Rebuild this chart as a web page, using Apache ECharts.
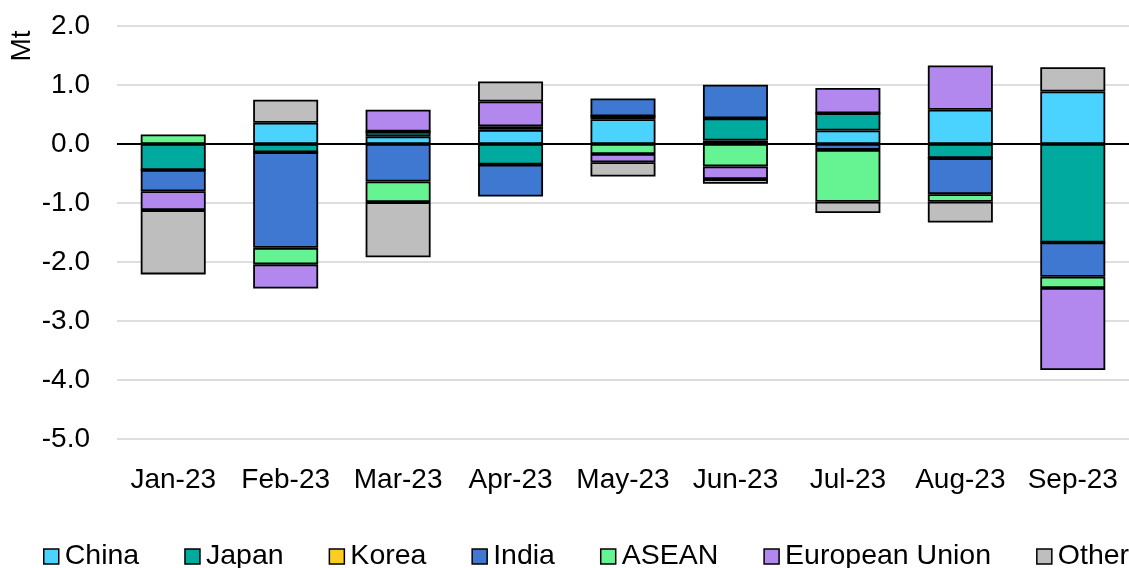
<!DOCTYPE html>
<html>
<head>
<meta charset="utf-8">
<style>
  html, body { margin: 0; padding: 0; background: #fff; }
  #chart { width: 1129px; height: 568px; }
</style>
<script src="https://cdn.jsdelivr.net/npm/echarts@6/dist/echarts.min.js"></script>
</head>
<body>
<div id="chart"></div>
<script>
// Monthly change by destination, Mt
const months = ['Jan-23', 'Feb-23', 'Mar-23', 'Apr-23', 'May-23', 'Jun-23', 'Jul-23', 'Aug-23', 'Sep-23'];
const china  = [0, 0.36, 0.13, 0.24, 0.42, 0.06, 0.23, 0.58, 0.89];
const japan  = [-0.44, -0.14, 0.08, -0.35, 0.05, 0.375, 0.29, -0.24, -1.67];
const korea  = [0, 0, 0, 0, 0, 0, 0, 0, 0];
const india  = [-0.36, -1.62, -0.635, -0.54, 0.30, 0.57, -0.10, -0.61, -0.58];
const asean  = [0.16, -0.28, -0.35, 0.06, -0.17, -0.38, -0.88, -0.13, -0.19];
const eu     = [-0.32, -0.41, 0.37, 0.42, -0.14, -0.215, 0.43, 0.75, -1.39];
const other  = [-1.09, 0.39, -0.935, 0.34, -0.24, -0.08, -0.19, -0.35, 0.41];

const seriesDefs = [
  { name: 'China', data: china, color: '#4BD3FF' },
  { name: 'Japan', data: japan, color: '#00AA9E' },
  { name: 'Korea', data: korea, color: '#FFCC22' },
  { name: 'India', data: india, color: '#3F78D0' },
  { name: 'ASEAN', data: asean, color: '#66F391' },
  { name: 'European Union', data: eu, color: '#B288EF' },
  { name: 'Other', data: other, color: '#BEBEBE' }
];

const FONT = 'Liberation Sans, Arial, sans-serif';

const series = seriesDefs.map((s, i) => {
  const item = {
    name: s.name,
    type: 'bar',
    stack: 'total',
    barWidth: 65,
    data: s.data,
    itemStyle: { color: s.color, borderColor: '#000', borderWidth: 1.8 },
    emphasis: { disabled: true }
  };
  if (i === seriesDefs.length - 1) {
    // zero baseline drawn over the bars
    item.markLine = {
      silent: true,
      symbol: 'none',
      label: { show: false },
      lineStyle: { color: '#000', width: 2, type: 'solid' },
      data: [{ yAxis: 0 }],
      z: 10
    };
  }
  return item;
});

const chart = echarts.init(document.getElementById('chart'));
chart.setOption({
  animation: false,
  backgroundColor: '#fff',
  textStyle: { fontFamily: FONT },
  grid: { left: 117, top: 26, width: 1021, height: 413, containLabel: false },
  legend: {
    left: 38,
    top: 537,
    width: 1400,
    itemGap: 45,
    itemWidth: 15,
    itemHeight: 15,
    icon: 'rect',
    itemStyle: { borderColor: '#000', borderWidth: 1.5 },
    textStyle: { fontFamily: FONT, fontSize: 28.5, color: '#000', padding: [0, 0, 0, 1] },
    data: seriesDefs.map(s => s.name)
  },
  xAxis: {
    type: 'category',
    data: months,
    axisLine: { show: false, onZero: false },
    axisTick: { show: false },
    axisLabel: { fontFamily: FONT, fontSize: 28, color: '#000', margin: 27, interval: 0 },
    splitLine: { show: false }
  },
  yAxis: {
    type: 'value',
    min: -5,
    max: 2,
    interval: 1,
    axisLine: { show: false },
    axisTick: { show: false },
    axisLabel: {
      fontFamily: FONT, fontSize: 28, color: '#000', margin: 27,
      formatter: v => v.toFixed(1)
    },
    splitLine: { lineStyle: { color: '#DEDEDE', width: 2 } }
  },
  graphic: [{
    type: 'text',
    x: 22,
    y: 46,
    rotation: Math.PI / 2,
    style: {
      text: 'Mt',
      fontFamily: FONT,
      fontSize: 28,
      fill: '#000',
      textAlign: 'center',
      textVerticalAlign: 'middle'
    }
  }],
  series: series
});
</script>
</body>
</html>
